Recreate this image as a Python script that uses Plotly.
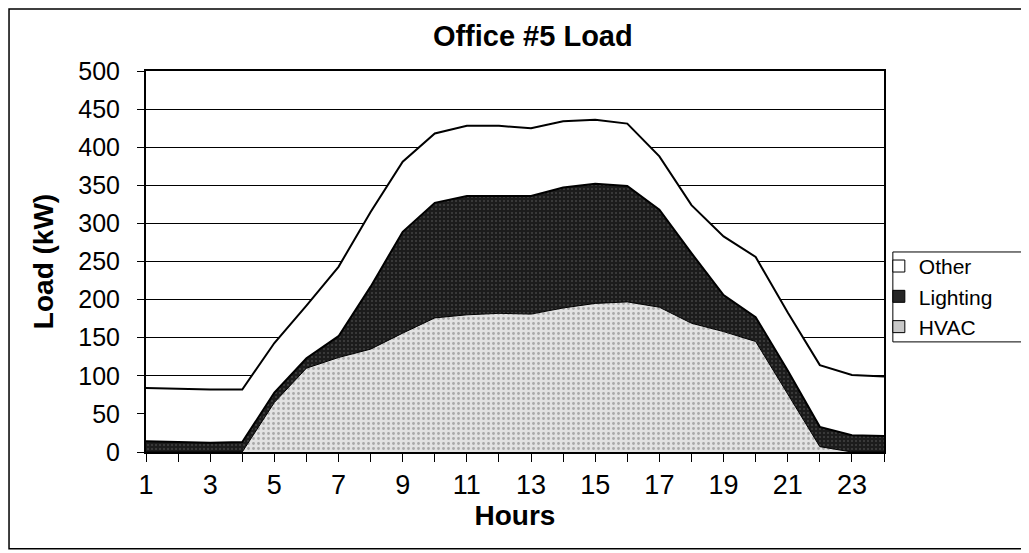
import plotly.graph_objects as go

hours = list(range(1, 25))
hour_labels = [str(h) if h % 2 == 1 else "" for h in hours]

# stacked components, kW
hvac = [0, 0, 0, 0, 65, 110, 124, 135, 156, 176, 180, 182,
        181, 189, 195, 197, 190, 169, 158, 145, 76, 7, 0, 0]
lighting = [14, 13, 12, 13, 13, 13, 28, 82, 133, 151, 156, 154,
            155, 158, 157, 152, 128, 92, 48, 32, 31, 26, 22, 21]
other = [70, 70, 70, 69, 65, 69, 91, 98, 92, 91, 92, 92,
         89, 87, 84, 82, 70, 63, 77, 79, 76, 81, 79, 78]

series = ["HVAC", "Lighting", "Other"]
values = [hvac, lighting, other]
fills = ["#e2e2e2", "#1c1c1c", "white"]
swatch = ["#c8c8c8", "#262626", "white"]
edge = [1, 2, 2]

FONT = "Liberation Sans, Arial, sans-serif"

fig = go.Figure()

for name, vals, fc, lw in zip(series, values, fills, edge):
    pattern = None
    if name == "HVAC":
        pattern = dict(shape=".", bgcolor=fc, fgcolor="#6e6e6e", size=5, solidity=0.25)
    elif name == "Lighting":
        pattern = dict(shape=".", bgcolor=fc, fgcolor="#6a6a6a", size=4, solidity=0.2)
    fig.add_trace(go.Scatter(
        x=hours, y=vals, name=name, stackgroup="load", mode="lines",
        line=dict(color="black", width=lw), fillcolor=fc,
        fillpattern=pattern, showlegend=False,
    ))

# legend entries with square swatches like the original
for name, sc in zip(series, swatch):
    fig.add_trace(go.Scatter(
        x=[None], y=[None], name=name, mode="markers",
        marker=dict(symbol="square", size=12, color=sc,
                    line=dict(color="black", width=1)),
    ))

# the page body adds 8px around the plot div, so the figure is 8px smaller
fig.update_layout(
    width=1021, height=545,
    margin=dict(l=138, r=145, t=63, b=101, autoexpand=False),
    paper_bgcolor="white", plot_bgcolor="white",
    font=dict(family=FONT, color="black", size=24),
    title=dict(text="<b>Office #5 Load</b>", x=0.514, xanchor="center",
               y=0.948, yanchor="middle", font=dict(size=29)),
    legend=dict(x=0.993, xanchor="left", y=0.541, yanchor="top",
                traceorder="reversed", borderwidth=0,
                bgcolor="rgba(0,0,0,0)", font=dict(size=21),
                tracegroupgap=0),
    showlegend=True,
)

fig.update_xaxes(
    range=[1, 24], tickvals=hours, ticktext=hour_labels,
    ticks="outside", ticklen=8, tickcolor="black", tickwidth=1,
    showline=True, linecolor="black", linewidth=2, mirror=True,
    showgrid=False, zeroline=False,
    tickfont=dict(size=27),
    title=dict(text="<b>Hours</b>", font=dict(size=28), standoff=4),
)
fig.update_yaxes(
    range=[0, 500], dtick=50,
    ticks="outside", ticklen=7, tickcolor="black", tickwidth=1,
    ticklabelstandoff=12,
    showline=True, linecolor="black", linewidth=2, mirror=True,
    showgrid=True, gridcolor="black", gridwidth=1, zeroline=False,
    tickfont=dict(size=25),
    title=dict(text="<b>Load (kW)</b>", font=dict(size=28), standoff=16),
)

# outer chart frame and legend box
fig.add_shape(type="rect", xref="paper", yref="paper",
              x0=-0.1856, x1=1.21, y0=-0.254, y1=1.163,
              line=dict(color="black", width=1.5), layer="below")
fig.add_shape(type="rect", xref="paper", yref="paper",
              x0=1.012, x1=1.21, y0=0.289, y1=0.525,
              line=dict(color="black", width=1), layer="below")

fig.write_html("out.html")
